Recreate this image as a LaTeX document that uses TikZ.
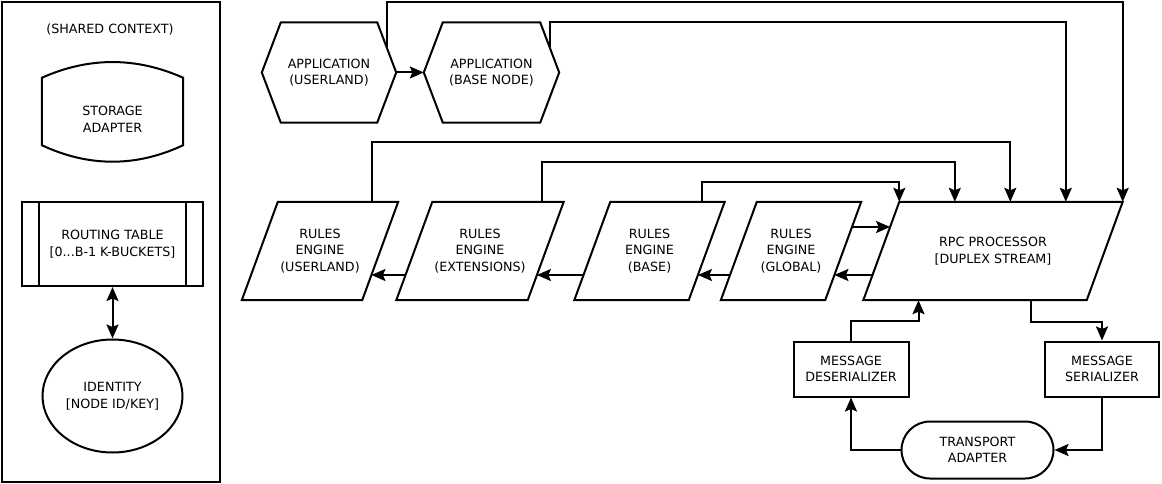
\documentclass[tikz,border=0pt]{standalone}
\usepackage{fontspec}
\setmainfont{DejaVu Sans}
\usetikzlibrary{arrows.meta,calc,shapes.geometric,shapes.misc}
\begin{document}
\begin{tikzpicture}[x=1pt,y=-1pt,
  every node/.style={font=\fontsize{12.7}{16.5}\selectfont, align=center, inner sep=0pt},
  outline/.style={draw, line width=2pt, line join=miter},
  box/.style={outline, rectangle},
  conn/.style={line width=2pt, -{Stealth[length=14pt,width=12pt,inset=2.5pt]}},
  dconn/.style={line width=2pt, {Stealth[length=14pt,width=12pt,inset=2.5pt]}-{Stealth[length=14pt,width=12pt,inset=2.5pt]}}]
\useasboundingbox (0,0) rectangle (1162,484);

% ---------- shared context ----------
\node[box, minimum width=218pt, minimum height=480pt] (ctx) at (111,242) {};
\node (ctxlabel) at (110,30) {(SHARED CONTEXT)};

\node[minimum width=141pt, minimum height=83pt] (storage) at (112.5,119.5) {STORAGE\\ADAPTER};
\draw[outline] (storage.north west)
  .. controls ([xshift=47pt,yshift=21pt]storage.north west) and ([xshift=-47pt,yshift=21pt]storage.north east) .. (storage.north east)
  -- ([yshift=16pt]storage.south east)
  .. controls ([xshift=-47pt,yshift=-6pt]storage.south east) and ([xshift=47pt,yshift=-6pt]storage.south west) .. ([yshift=16pt]storage.south west)
  -- cycle;

\node[box, minimum width=181pt, minimum height=84pt] (routing) at (112.5,244) {ROUTING TABLE\\{}[0...B-1 K-BUCKETS]};
\draw[outline] ([xshift=18pt]routing.north west) -- ([xshift=18pt]routing.south west);
\draw[outline] ([xshift=-18pt]routing.north east) -- ([xshift=-18pt]routing.south east);

\node[outline, ellipse, minimum width=140pt, minimum height=113pt] (identity) at (112.5,396) {IDENTITY\\{}[NODE ID/KEY]};
\draw[dconn] (routing) -- (identity);

% ---------- applications ----------
\node[minimum width=134pt, minimum height=100pt] (au) at (329,72.5) {APPLICATION\\(USERLAND)};
\node[minimum width=135pt, minimum height=100pt] (ab) at (491.5,72.5) {APPLICATION\\(BASE NODE)};
\foreach \n in {au,ab}
  \draw[outline] (\n.west) -- ([xshift=19pt]\n.north west) -- ([xshift=-19pt]\n.north east)
    -- (\n.east) -- ([xshift=-19pt]\n.south east) -- ([xshift=19pt]\n.south west) -- cycle;
\draw[conn] (au.east) -- (ab.west);

% ---------- rules engines and rpc ----------
\node[minimum width=120pt, minimum height=98pt] (reu) at (320,251) {RULES\\ENGINE\\(USERLAND)};
\node[minimum width=131pt, minimum height=98pt] (ree) at (480,251) {RULES\\ENGINE\\(EXTENSIONS)};
\node[minimum width=114pt, minimum height=98pt] (reb) at (649.5,251) {RULES\\ENGINE\\(BASE)};
\node[minimum width=104pt, minimum height=98pt] (reg) at (791,251) {RULES\\ENGINE\\(GLOBAL)};
\node[minimum width=223pt, minimum height=98pt] (rpc) at (993,251) {RPC PROCESSOR\\{}[DUPLEX STREAM]};
\foreach \n in {reu,ree,reb,reg,rpc}
  \draw[outline] ([xshift=18pt]\n.north west) -- ([xshift=18pt]\n.north east)
    -- ([xshift=-18pt]\n.south east) -- ([xshift=-18pt]\n.south west) -- cycle;

\draw[conn] ([xshift=8.8pt,yshift=24pt]reg.east) -- ([xshift=8.8pt,yshift=24pt]rpc.west);
\draw[conn] ([xshift=-8.8pt,yshift=-24pt]rpc.west) -- ([xshift=-8.8pt,yshift=-24pt]reg.east);
\draw[conn] ([xshift=-8.8pt,yshift=-24pt]reg.west) -- ([xshift=-8.8pt,yshift=-24pt]reb.east);
\draw[conn] ([xshift=-8.8pt,yshift=-24pt]reb.west) -- ([xshift=-8.8pt,yshift=-24pt]ree.east);
\draw[conn] ([xshift=-8.8pt,yshift=-24pt]ree.west) -- ([xshift=-8.8pt,yshift=-24pt]reu.east);

\draw[conn] ([xshift=52pt]reb.north) -- ++(0,-20) -| ([xshift=18pt]rpc.north west);
\draw[conn] ([xshift=62pt]ree.north) -- ++(0,-40) -| ([xshift=73.5pt]rpc.north west);
\draw[conn] ([xshift=52pt]reu.north) -- ++(0,-60) -| ([xshift=129pt]rpc.north west);
\draw[conn] ([xshift=-9.5pt,yshift=-25pt]ab.north east) -- ([xshift=-9.5pt]ab.north east) -| ([xshift=184.5pt]rpc.north west);
\draw[conn] ([xshift=-9.5pt,yshift=-25pt]au.north east) -- ++(0,-45.5) -| ([xshift=18pt]rpc.north east);

% ---------- serialization ----------
\node[box, minimum width=115pt, minimum height=55pt] (des) at (851,369) {MESSAGE\\DESERIALIZER};
\node[box, minimum width=114pt, minimum height=55pt] (ser) at (1102,369) {MESSAGE\\SERIALIZER};
\node[outline, rounded rectangle, minimum width=152pt, minimum height=57pt] (tr) at (977.5,450) {TRANSPORT\\ADAPTER};

\draw[conn] (des.north) -- ++(0,-20) -| ([xshift=-74.5pt]rpc.south);
\draw[conn] ([xshift=37.5pt]rpc.south) -- ++(0,22) -| (ser.north);
\draw[conn] (ser.south) |- (tr.east);
\draw[conn] (tr.west) -| (des.south);
\end{tikzpicture}
\end{document}
